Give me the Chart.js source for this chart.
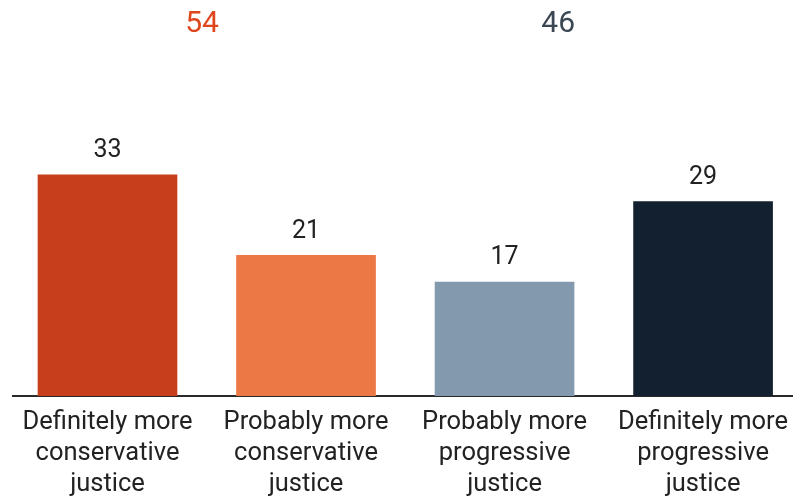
<!DOCTYPE html>
<html>
<head>
<meta charset="utf-8">
<script src="https://cdn.jsdelivr.net/npm/chart.js@4"></script>
<style>
  html, body { margin: 0; padding: 0; background: #fff; }
  #wrap { width: 793px; height: 498px; }
</style>
</head>
<body>
<div id="wrap"><canvas id="grafica"></canvas></div>
<script>
"use strict";

// categorias del eje X (cada una en varias lineas)
const categorias = [
    ["Definitely more", "conservative", "justice"],
    ["Probably more", "conservative", "justice"],
    ["Probably more", "progressive", "justice"],
    ["Definitely more", "progressive", "justice"]
];

// porcentajes de cada barra
const valores = [33, 21, 17, 29];
const colores = ["#c73e1d", "#ec7945", "#8299ae", "#13202f"];

// totales de cada bloque (conservador / progresivo)
const totales = [54, 46];
const totalesX = [0.476, 2.27];
const totalesColor = ["#e0461b", "#3b4752"];

// etiqueta con el valor encima de cada barra
const etiquetasBarras = {
    id: "etiquetasBarras",
    afterDatasetsDraw(chart) {
        const ctx = chart.ctx;
        const meta = chart.getDatasetMeta(0);
        ctx.save();
        ctx.font = "25px Roboto";
        ctx.fillStyle = "#222";
        ctx.textAlign = "center";
        ctx.textBaseline = "middle";
        meta.data.forEach((barra, i) => {
            ctx.fillText(valores[i], barra.x, barra.y - 24);
        });

        // totales arriba de todo
        ctx.font = "30px Roboto";
        const x = chart.scales.x;
        totales.forEach((t, i) => {
            ctx.fillStyle = totalesColor[i];
            ctx.fillText(t, x.getPixelForValue(totalesX[i]), 24);
        });
        ctx.restore();
    }
};

new Chart(document.getElementById("grafica"), {
    type: "bar",
    data: {
        datasets: [{
            data: valores.map((v, i) => ({ x: i, y: v })),
            backgroundColor: colores,
            barThickness: 139,
            borderWidth: 0
        }]
    },
    options: {
        responsive: true,
        maintainAspectRatio: false,
        animation: false,
        layout: { padding: { left: 13, right: 0, top: 0, bottom: 0 } },
        plugins: {
            legend: { display: false },
            tooltip: { enabled: false }
        },
        scales: {
            x: {
                type: "linear",
                offset: false,
                bounds: "ticks",
                min: -0.476,
                max: 3.453,
                afterBuildTicks: scale => {
                    scale.ticks = [0, 1, 2, 3].map(v => ({ value: v }));
                },
                // alto fijo y sin margen extra a los costados
                afterFit: scale => {
                    scale.height = 102;
                    scale.paddingLeft = 0;
                    scale.paddingRight = 0;
                },
                grid: { display: false, drawTicks: false, offset: false },
                border: { display: true, color: "#2a2a2a", width: 2 },
                ticks: {
                    padding: 11,
                    maxRotation: 0,
                    autoSkip: false,
                    color: "#222",
                    font: { family: "Roboto", size: 25.5, lineHeight: 1.22 },
                    callback: value => categorias[value]
                }
            },
            y: {
                display: false,
                min: 0,
                max: 59.1
            }
        }
    },
    plugins: [etiquetasBarras]
});
</script>
</body>
</html>
